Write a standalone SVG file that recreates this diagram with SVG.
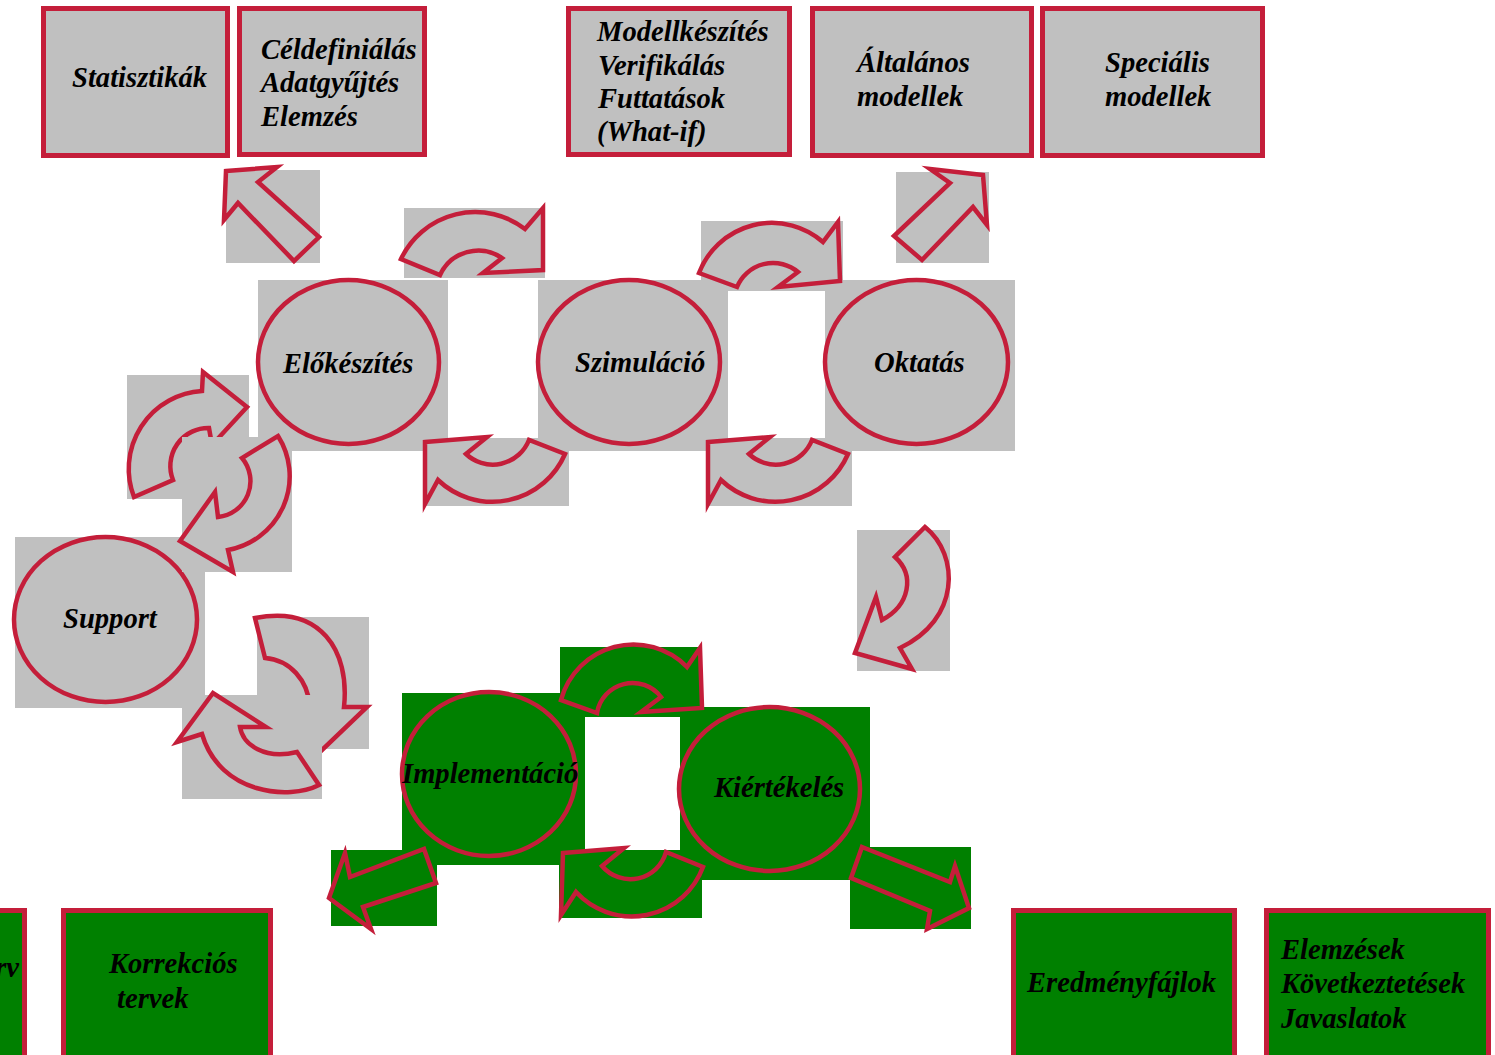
<svg xmlns="http://www.w3.org/2000/svg" width="1495" height="1055" viewBox="0 0 1495 1055">
  <style>
    .bg { fill: #C0C0C0; }
    .gbg { fill: #008000; }
    .box { fill: #C0C0C0; stroke: #C41E3A; stroke-width: 5; }
    .gbox { fill: #008000; stroke: #C41E3A; stroke-width: 5; }
    .node { fill: #C0C0C0; stroke: #C41E3A; stroke-width: 4.5; }
    .gnode { fill: #008000; stroke: #C41E3A; stroke-width: 4.5; }
    .arr { fill: #C0C0C0; stroke: #C41E3A; stroke-width: 4.5; stroke-linejoin: miter; stroke-miterlimit: 10; }
    .garr { fill: #008000; stroke: #C41E3A; stroke-width: 4.5; stroke-linejoin: miter; stroke-miterlimit: 10; }
    text { font-family: "Liberation Serif", "Times New Roman", serif; font-weight: bold; font-style: italic; font-size: 28.6px; fill: #000; }
  </style>

  <rect width="1495" height="1055" fill="#FFFFFF"/>

  <!-- top output boxes -->
  <g id="box-statisztikak">
    <rect class="box" x="43.5" y="8.5" width="184" height="147"/>
    <text x="72" y="87">Statisztikák</text>
  </g>
  <g id="box-celdefinialas">
    <rect class="box" x="239.5" y="8.5" width="185" height="146"/>
    <text x="261" y="59">Céldefiniálás</text>
    <text x="261" y="92">Adatgyűjtés</text>
    <text x="261" y="126">Elemzés</text>
  </g>
  <g id="box-modellkeszites">
    <rect class="box" x="568.5" y="8.5" width="221" height="146"/>
    <text x="597" y="41">Modellkészítés</text>
    <text x="598" y="75">Verifikálás</text>
    <text x="598" y="108">Futtatások</text>
    <text x="597" y="141">(What-if)</text>
  </g>
  <g id="box-altalanos">
    <rect class="box" x="812.5" y="8.5" width="219" height="147"/>
    <text x="857" y="72">Általános</text>
    <text x="857" y="106">modellek</text>
  </g>
  <g id="box-specialis">
    <rect class="box" x="1042.5" y="8.5" width="220" height="147"/>
    <text x="1105" y="72">Speciális</text>
    <text x="1105" y="106">modellek</text>
  </g>

  <!-- process nodes -->
  <g id="node-elokeszites">
    <rect class="bg" x="258" y="280" width="190" height="171"/>
    <ellipse class="node" cx="348.5" cy="362" rx="90.5" ry="82"/>
    <text x="283" y="373">Előkészítés</text>
  </g>
  <g id="node-szimulacio">
    <rect class="bg" x="538" y="280" width="190" height="171"/>
    <ellipse class="node" cx="629" cy="362" rx="91" ry="82"/>
    <text x="575" y="372">Szimuláció</text>
  </g>
  <g id="node-oktatas">
    <rect class="bg" x="825" y="280" width="190" height="171"/>
    <ellipse class="node" cx="916.5" cy="362" rx="91.5" ry="82"/>
    <text x="874" y="372">Oktatás</text>
  </g>
  <g id="node-support">
    <rect class="bg" x="15" y="537" width="190" height="171"/>
    <ellipse class="node" cx="105.5" cy="619.5" rx="91.5" ry="82.5"/>
    <text x="63" y="628">Support</text>
  </g>
  <g id="node-implementacio">
    <rect class="gbg" x="402" y="693" width="183" height="172"/>
    <ellipse class="gnode" cx="489" cy="774" rx="87" ry="82"/>
    <text x="402" y="783">Implementáció</text>
  </g>
  <g id="node-kiertekeles">
    <rect class="gbg" x="680" y="707" width="190" height="173"/>
    <ellipse class="gnode" cx="769.5" cy="789" rx="90.5" ry="82"/>
    <text x="714" y="797">Kiértékelés</text>
  </g>

  <!-- bottom output boxes -->
  <g id="box-terv">
    <rect class="gbox" x="-180" y="910.5" width="204.5" height="200"/>
    <text x="19" y="977" text-anchor="end">terv</text>
  </g>
  <g id="box-korrekcios">
    <rect class="gbox" x="63.5" y="910.5" width="207" height="200"/>
    <text x="109" y="973">Korrekciós</text>
    <text x="117" y="1008">tervek</text>
  </g>
  <g id="box-eredmenyfajlok">
    <rect class="gbox" x="1013.5" y="910.5" width="221" height="200"/>
    <text x="1027" y="992">Eredményfájlok</text>
  </g>
  <g id="box-elemzesek">
    <rect class="gbox" x="1266.5" y="910.5" width="222" height="200"/>
    <text x="1281" y="959">Elemzések</text>
    <text x="1281" y="993">Következtetések</text>
    <text x="1281" y="1028">Javaslatok</text>
  </g>

  <!-- connectors: block arrows, each on its own shape background -->
  <g id="connectors">
    <g id="arrow-elokeszites-statisztikak">
      <rect class="bg" x="226" y="170" width="94" height="93"/>
      <path class="arr" d="M226,171 L277,167 L258,182 L319,237 L294,261 L238,203 L224,220 Z"/>
    </g>
    <g id="arrow-elokeszites-szimulacio">
      <rect class="bg" x="404" y="208" width="141" height="70"/>
      <path class="arr" d="M401,259 A82,82 0 0 1 525,229 L543,208 L543,270 L483,273 L502,258 A42,42 0 0 0 440,275 Z"/>
    </g>
    <g id="arrow-szimulacio-oktatas">
      <rect class="bg" x="701" y="221" width="142" height="70"/>
      <path class="arr" d="M699,273 A78,78 0 0 1 823,242 L838,222 L840,281 L778,287 L798,272 A39,39 0 0 0 737,287 Z"/>
    </g>
    <g id="arrow-oktatas-altalanos">
      <rect class="bg" x="896" y="172" width="93" height="91"/>
      <path class="arr" d="M983,175 L930,169 L950,183 L894,236 L922,260 L973,207 L987,225 Z"/>
    </g>
    <g id="arrow-support-elokeszites">
      <rect class="bg" x="127" y="375" width="122" height="124"/>
      <path class="arr" d="M134,497 A78,78 0 0 1 202,391 L203,372 L247,407 L212,445 L209,428 A38,38 0 0 0 173,480 Z"/>
    </g>
    <g id="arrow-elokeszites-support">
      <rect class="bg" x="182" y="437" width="110" height="135"/>
      <path class="arr" d="M278,436 A75,75 0 0 1 228,550 L233,572 L180,541 L215,492 L218,517 A36,36 0 0 0 242,458 Z"/>
    </g>
    <g id="arrow-szimulacio-elokeszites">
      <rect class="bg" x="426" y="438" width="143" height="68"/>
      <path class="arr" d="M425,442 L487,437 L466,454 A39,39 0 0 0 529,440 L565,454 A79,79 0 0 1 438,480 L425,504 Z"/>
    </g>
    <g id="arrow-oktatas-szimulacio">
      <rect class="bg" x="708" y="438" width="144" height="68"/>
      <path class="arr" d="M708,442 L770,437 L749,454 A39,39 0 0 0 812,440 L848,454 A79,79 0 0 1 721,480 L708,504 Z"/>
    </g>
    <g id="arrow-oktatas-kiertekeles">
      <rect class="bg" x="857" y="530" width="93" height="141"/>
      <path class="arr" d="M925,527 C960,555 960,620 900,648 L912,669 L855,653 L876,597 L882,620 C910,605 915,575 895,557 Z"/>
    </g>
    <g id="arrow-support-implementacio">
      <rect class="bg" x="257" y="617" width="112" height="132"/>
      <path class="arr" d="M255,618 C320,605 350,650 344,707 L367,707 L320,752 L280,718 L310,707 C308,680 290,660 265,658 Z"/>
    </g>
    <g id="arrow-implementacio-support">
      <rect class="bg" x="182" y="695" width="140" height="104"/>
      <path class="arr" d="M202,734 L177,742 L213,693 L266,727 L240,727 C243,745 265,760 297,752 L319,785 C290,800 220,795 202,734 Z"/>
    </g>
    <g id="arrow-implementacio-kiertekeles">
      <rect class="gbg" x="560" y="647" width="141" height="70"/>
      <path class="garr" d="M561,700 A75,75 0 0 1 687,667 L700,648 L702,708 L641,712 L661,697 A36,36 0 0 0 597,713 Z"/>
    </g>
    <g id="arrow-kiertekeles-implementacio">
      <rect class="gbg" x="559" y="850" width="143" height="68"/>
      <path class="garr" d="M563,853 L624,848 L602,866 A37,37 0 0 0 666,852 L703,867 A76,76 0 0 1 576,892 L561,915 Z"/>
    </g>
    <g id="arrow-implementacio-korrekcios">
      <rect class="gbg" x="331" y="850" width="106" height="76"/>
      <path class="garr" d="M329,898 L345,853 L350,877 L424,849 L436,883 L363,907 L371,929 Z"/>
    </g>
    <g id="arrow-kiertekeles-eredmeny">
      <rect class="gbg" x="850" y="847" width="121" height="82"/>
      <path class="garr" d="M862,847 L950,882 L955,866 L969,908 L927,929 L930,911 L851,878 Z"/>
    </g>
  </g>
</svg>
